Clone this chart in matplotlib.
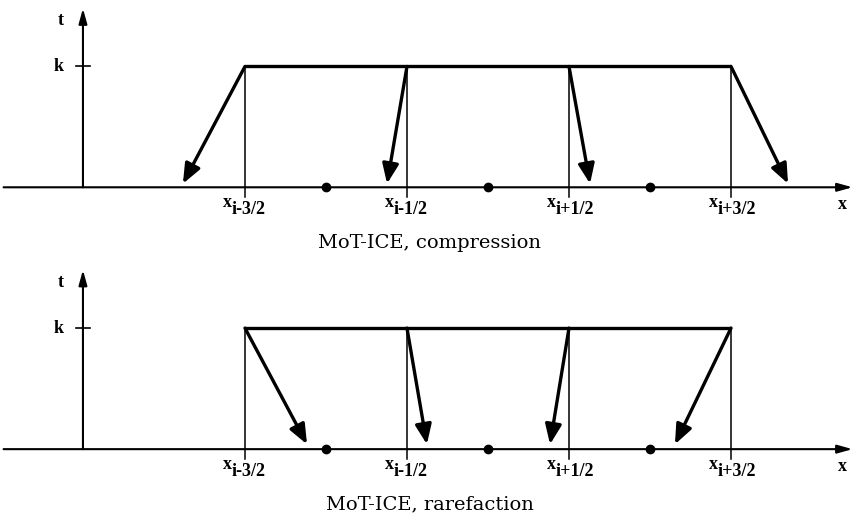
import matplotlib
matplotlib.use("Agg")
import matplotlib.pyplot as plt

# 셀 경계(x_{i±1/2}, x_{i±3/2}) 위치와 라벨 (단위: 셀 간격)
cell_faces = [-1.5, -0.5, 0.5, 1.5]
face_labels = ['i-3/2', 'i-1/2', 'i+1/2', 'i+3/2']
cell_centres = [-1.0, 0.0, 1.0]
k_level = 1.0

# t=k 에서 출발한 특성선이 x축 근처에서 끝나는 위치
compression_feet = [-1.883, -0.623, 0.630, 1.852]
rarefaction_feet = [-1.117, -0.377, 0.383, 1.154]
foot_t = [0.03, 0.04]

panels = [
    ('MoT-ICE, compression', compression_feet),
    ('MoT-ICE, rarefaction', rarefaction_feet),
]

W, H = 859, 523
fig = plt.figure(figsize=(W / 100, H / 100), dpi=100)

LABEL_FONT = dict(family='Liberation Serif', weight='bold', size=13)
CAP_FONT = dict(family='DejaVu Serif', size=14)

x_min, x_max = -3.012, 2.29
t_origin = -2.5


def draw_panel(ax, caption, feet, tip_t):
    ax.set_xlim(x_min, x_max)
    ax.set_ylim(-0.61, 1.55)
    ax.axis('off')

    # x 축, t 축 (화살표)
    ax.annotate('', xy=(2.25, 0), xytext=(-2.99, 0),
                arrowprops=dict(arrowstyle='-|>,head_length=0.9,head_width=0.25',
                                lw=1.5, color='black', shrinkA=0, shrinkB=0))
    ax.annotate('', xy=(t_origin, 1.48), xytext=(t_origin, 0),
                arrowprops=dict(arrowstyle='-|>,head_length=0.9,head_width=0.25',
                                lw=1.5, color='black', shrinkA=0, shrinkB=0))
    ax.plot([t_origin - 0.045, t_origin + 0.045], [k_level, k_level], color='black', lw=1.2)
    ax.text(-2.64, 1.38, 't', ha='center', va='center', **LABEL_FONT)
    ax.text(-2.65, k_level, 'k', ha='center', va='center', **LABEL_FONT)
    ax.text(2.185, -0.14, 'x', ha='center', va='center', **LABEL_FONT)

    # t=k 수평선과 셀 경계 수직선
    ax.plot([cell_faces[0], cell_faces[-1]], [k_level, k_level], color='black', lw=2.4,
            solid_capstyle='butt')
    for xf, lab in zip(cell_faces, face_labels):
        ax.plot([xf, xf], [-0.08, k_level], color='black', lw=1.1)
        ax.annotate('x', xy=(xf, 0), xytext=(-22, -20), textcoords='offset pixels',
                    ha='left', va='baseline', **LABEL_FONT)
        ax.annotate(lab, xy=(xf, 0), xytext=(-13, -27), textcoords='offset pixels',
                    ha='left', va='baseline', **LABEL_FONT)

    # 셀 중심점
    ax.plot(cell_centres, [0] * len(cell_centres), 'o', color='black', ms=6)

    # 특성선 화살표
    for xf, xe in zip(cell_faces, feet):
        ax.annotate('', xy=(xe, tip_t), xytext=(xf, k_level),
                    arrowprops=dict(arrowstyle='-|>,head_length=0.85,head_width=0.35',
                                    lw=2.4, color='black', shrinkA=0, shrinkB=0,
                                    mutation_scale=14))

    ax.text(-0.36, -0.46, caption, ha='center', va='center', **CAP_FONT)


top = fig.add_axes([0, 1 - 261 / H, 1, 261 / H])
bot = fig.add_axes([0, 0, 1, 261.5 / H])
for ax, (cap, feet), tt in zip([top, bot], panels, foot_t):
    draw_panel(ax, cap, feet, tt)

fig.savefig('out.png', dpi=100)
